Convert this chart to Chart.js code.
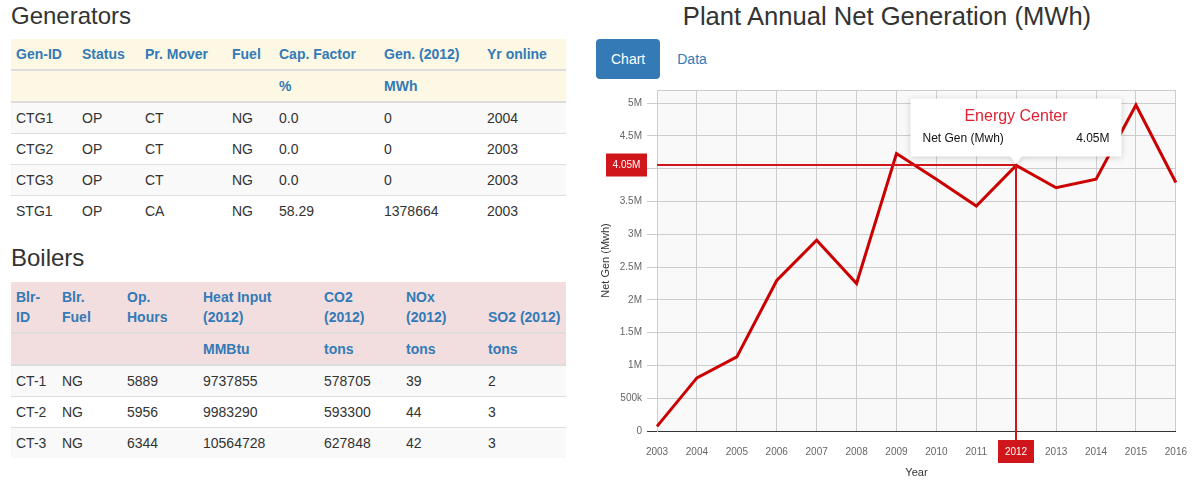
<!DOCTYPE html>
<html>
<head>
<meta charset="utf-8">
<title>Plant Annual Net Generation</title>
<script src="https://cdn.jsdelivr.net/npm/chart.js@4.4.1/dist/chart.umd.min.js"></script>
<style>
    html, body { margin: 0; padding: 0; background: #fff; }
    body { font-family: "Liberation Sans", Arial, Helvetica, sans-serif; font-size: 14px; color: #333; width: 1201px; height: 501px; overflow: hidden; position: relative; }
    h3 { font-size: 24px; font-weight: normal; line-height: 1.1; margin: 0; color: #333; }
    #left { position: absolute; left: 11px; top: 0; width: 555px; }
    #genTitle { margin-top: 3px; margin-bottom: 9.6px; }
    #boilTitle { margin-top: 18.8px; margin-bottom: 10.8px; }
    table { border-collapse: collapse; width: 555px; table-layout: fixed; }
    th, td { padding: 5px; line-height: 20px; text-align: left; vertical-align: top; }
    thead th { color: #337ab7; font-weight: bold; vertical-align: bottom; border-bottom: 2px solid #ddd; }
    tbody td { border-top: 1px solid #ddd; }
    tbody tr:nth-child(odd) td { background: #f9f9f9; }
    .warn th { background: #fcf8e3; }
    .danger th { background: #f2dede; }
    #right { position: absolute; left: 590px; top: 0; width: 611px; }
    #chartTitle { position: absolute; left: -13px; top: 2px; width: 620px; text-align: center; font-size: 25.6px; }
    .pills { position: absolute; left: 6px; top: 39px; margin: 0; padding: 0; list-style: none; }
    .pills li { float: left; margin-right: 2px; }
    .pills a { display: block; padding: 10px 15px; line-height: 20px; border-radius: 4px; color: #337ab7; text-decoration: none; }
    .pills li.active a { background: #337ab7; color: #fff; }
    #chartBox { position: absolute; left: 0; top: 79px; width: 612px; height: 401px; }
</style>
</head>
<body>
<div id="left">
    <h3 id="genTitle">Generators</h3>
    <table>
        <colgroup><col style="width:66px"><col style="width:63px"><col style="width:87px"><col style="width:47px"><col style="width:105px"><col style="width:103px"><col style="width:84px"></colgroup>
        <thead class="warn">
            <tr><th>Gen-ID</th><th>Status</th><th>Pr. Mover</th><th>Fuel</th><th>Cap. Factor</th><th>Gen. (2012)</th><th>Yr online</th></tr>
            <tr><th></th><th></th><th></th><th></th><th>%</th><th>MWh</th><th></th></tr>
        </thead>
        <tbody id="genBody"></tbody>
    </table>
    <h3 id="boilTitle">Boilers</h3>
    <table>
        <colgroup><col style="width:46px"><col style="width:65px"><col style="width:76px"><col style="width:121px"><col style="width:82px"><col style="width:82px"><col style="width:83px"></colgroup>
        <thead class="danger">
            <tr><th>Blr-ID</th><th>Blr. Fuel</th><th>Op. Hours</th><th>Heat Input (2012)</th><th>CO2 (2012)</th><th>NOx (2012)</th><th>SO2 (2012)</th></tr>
            <tr><th></th><th></th><th></th><th>MMBtu</th><th>tons</th><th>tons</th><th>tons</th></tr>
        </thead>
        <tbody id="boilBody"></tbody>
    </table>
</div>
<div id="right">
    <h3 id="chartTitle">Plant Annual Net Generation (MWh)</h3>
    <ul class="pills">
        <li class="active"><a href="#">Chart</a></li>
        <li><a href="#">Data</a></li>
    </ul>
    <div id="chartBox"><canvas id="genChart"></canvas></div>
</div>
<script>
// table rows
const generators = [
    ['CTG1', 'OP', 'CT', 'NG', '0.0', '0', '2004'],
    ['CTG2', 'OP', 'CT', 'NG', '0.0', '0', '2003'],
    ['CTG3', 'OP', 'CT', 'NG', '0.0', '0', '2003'],
    ['STG1', 'OP', 'CA', 'NG', '58.29', '1378664', '2003']
];
const boilers = [
    ['CT-1', 'NG', '5889', '9737855', '578705', '39', '2'],
    ['CT-2', 'NG', '5956', '9983290', '593300', '44', '3'],
    ['CT-3', 'NG', '6344', '10564728', '627848', '42', '3']
];

// chart data
const years = ['2003', '2004', '2005', '2006', '2007', '2008', '2009', '2010', '2011', '2012', '2013', '2014', '2015', '2016'];
const netGen = [70000, 810000, 1130000, 2295000, 2910000, 2250000, 4230000, 3840000, 3430000, 4050000, 3710000, 3840000, 4970000, 3790000];
const yTicks = [0, 500000, 1000000, 1500000, 2000000, 2500000, 3000000, 3500000, 4000000, 4500000, 5000000];
const yMax = 5200000;
const hoverYear = '2012';
const seriesName = 'Energy Center';
const valueLabel = 'Net Gen (Mwh)';

function fillRows(id, rows) {
    document.getElementById(id).innerHTML = rows.map(r =>
        '<tr>' + r.map(c => `<td>${c}</td>`).join('') + '</tr>').join('');
}
fillRows('genBody', generators);
fillRows('boilBody', boilers);

function fmt(v) {
    if (v >= 1e6) return parseFloat((v / 1e6).toFixed(2)) + 'M';
    if (v >= 1e3) return parseFloat((v / 1e3).toFixed(1)) + 'k';
    return String(v);
}

const FONT = '"Liberation Sans", Arial, Helvetica, sans-serif';
const RED = '#cc0000';
const CROSS = '#d0161b';
Chart.defaults.font.family = FONT;

const plotBg = {
    id: 'plotBg',
    beforeDraw(chart) {
        const { ctx, chartArea: a } = chart;
        ctx.save();
        ctx.fillStyle = '#f9f9f9';
        ctx.fillRect(a.left, a.top, a.right - a.left, a.bottom - a.top);
        ctx.strokeStyle = '#ccc';
        ctx.lineWidth = 1;
        ctx.beginPath();
        ctx.moveTo(a.left, a.top + 0.5);
        ctx.lineTo(a.right, a.top + 0.5);
        ctx.stroke();
        ctx.restore();
    }
};

const crosshair = {
    id: 'crosshair',
    afterDraw(chart) {
        const idx = years.indexOf(hoverYear);
        const pt = chart.getDatasetMeta(0).data[idx];
        const { ctx, chartArea: a } = chart;
        const px = Math.round(pt.x), py = Math.round(pt.y);
        ctx.save();
        // lines
        ctx.strokeStyle = CROSS;
        ctx.lineWidth = 2;
        ctx.beginPath();
        ctx.moveTo(a.left, py);
        ctx.lineTo(px, py);
        ctx.moveTo(px, py);
        ctx.lineTo(px, a.bottom + 9);
        ctx.stroke();
        // axis labels
        ctx.fillStyle = CROSS;
        ctx.fillRect(a.left - 51, py - 11.5, 41, 23);
        ctx.fillRect(px - 18, a.bottom + 9, 36, 23);
        ctx.fillStyle = '#fff';
        ctx.font = '10px ' + FONT;
        ctx.textAlign = 'center';
        ctx.textBaseline = 'middle';
        ctx.fillText(fmt(netGen[idx]), a.left - 30.5, py);
        ctx.fillText(years[idx], px, a.bottom + 21);
        // tooltip box
        const w = 211, h = 58;
        const bx = px - w / 2, by = py - 8.5 - h;
        ctx.save();
        ctx.shadowColor = 'rgba(0,0,0,0.18)';
        ctx.shadowBlur = 6;
        ctx.shadowOffsetY = 1;
        ctx.fillStyle = '#fff';
        ctx.beginPath();
        ctx.moveTo(bx, by);
        ctx.lineTo(bx + w, by);
        ctx.lineTo(bx + w, by + h);
        ctx.lineTo(px + 6, by + h);
        ctx.lineTo(px, py - 1);
        ctx.lineTo(px - 6, by + h);
        ctx.lineTo(bx, by + h);
        ctx.closePath();
        ctx.fill();
        ctx.restore();
        ctx.fillStyle = '#dd2233';
        ctx.font = '16px ' + FONT;
        ctx.textAlign = 'center';
        ctx.fillText(seriesName, px, by + 18);
        ctx.fillStyle = '#111';
        ctx.font = '12px ' + FONT;
        ctx.textAlign = 'left';
        ctx.fillText(valueLabel, bx + 12, by + 40);
        ctx.textAlign = 'right';
        ctx.fillText(fmt(netGen[idx]), bx + w - 12, by + 40);
        ctx.restore();
    }
};

new Chart(document.getElementById('genChart'), {
    type: 'line',
    data: {
        labels: years,
        datasets: [{
            label: valueLabel,
            data: netGen,
            borderColor: RED,
            borderWidth: 3,
            pointRadius: 0,
            tension: 0,
            fill: false
        }]
    },
    options: {
        responsive: true,
        maintainAspectRatio: false,
        animation: false,
        events: [],
        layout: { padding: { top: 6, right: 14, left: 0, bottom: 0 } },
        plugins: { legend: { display: false }, tooltip: { enabled: false } },
        scales: {
            x: {
                offset: false,
                grid: { color: '#ccc', drawTicks: false },
                border: { color: '#333' },
                ticks: { color: '#666', font: { size: 10 }, padding: 15, maxRotation: 0, autoSkip: false },
                title: { display: true, text: 'Year', color: '#333', font: { size: 11 }, padding: { top: 8, bottom: 0 } },
                afterFit(s) { s.height = 49; }
            },
            y: {
                min: 0,
                max: yMax,
                afterBuildTicks(s) { s.ticks = yTicks.map(v => ({ value: v })); },
                grid: { color: c => (c.tick && c.tick.value === 0 ? '#333' : '#ccc'), tickLength: 10 },
                border: { color: '#ccc' },
                ticks: { color: '#666', font: { size: 10 }, padding: 5, callback: v => fmt(v) },
                title: { display: true, text: valueLabel, color: '#333', font: { size: 11 }, padding: { top: 9, bottom: 0 } },
                afterFit(s) { s.width = 67; }
            }
        }
    },
    plugins: [plotBg, crosshair]
});
</script>
</body>
</html>
